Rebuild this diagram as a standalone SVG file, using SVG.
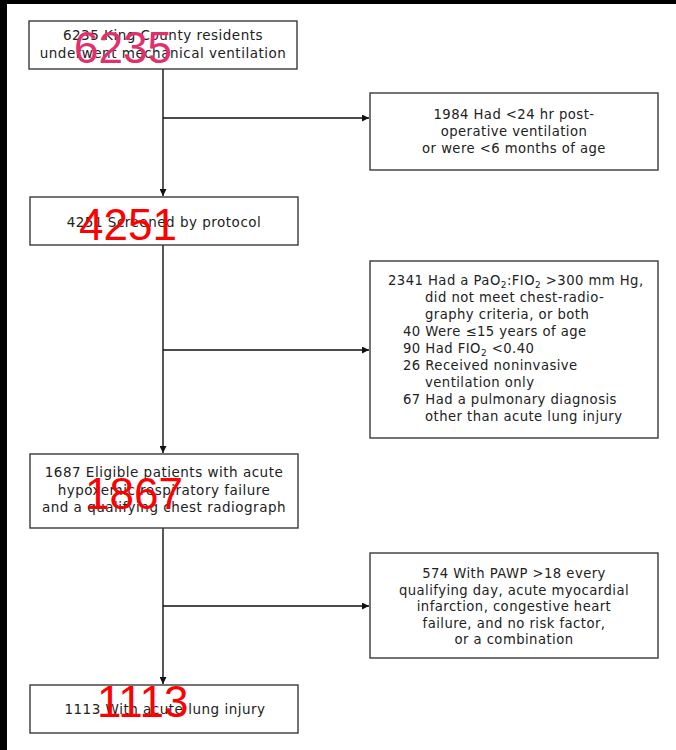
<svg xmlns="http://www.w3.org/2000/svg" width="676" height="750" viewBox="0 0 676 750">
<defs>
<style>
.box{fill:#fff;stroke:#3a3a3a;stroke-width:1.4}
.t{font-family:"DejaVu Sans","Liberation Sans",sans-serif;font-size:13.5px;letter-spacing:0.5px;fill:#222}
.r{font-size:13.2px;letter-spacing:0.45px}
.c{text-anchor:middle}
.big{font-family:"Liberation Sans",Arial,sans-serif;font-size:44px;fill:#ff0000}
.ln{stroke:#111;stroke-width:1.4;fill:none}
</style>
<marker id="ah" viewBox="0 0 10 10" refX="10" refY="5" markerWidth="9" markerHeight="7" markerUnits="userSpaceOnUse" orient="auto">
<path d="M0,0 L10,5 L0,10 z" fill="#111"/>
</marker>
</defs>
<rect x="0" y="0" width="676" height="750" fill="#fff"/>
<rect x="0" y="0" width="676" height="4" fill="#000"/>
<rect x="0" y="0" width="7" height="750" fill="#000"/>

<g id="connectors">
<line class="ln" x1="163" y1="69" x2="163" y2="196" marker-end="url(#ah)"/>
<line class="ln" x1="163" y1="118" x2="369" y2="118" marker-end="url(#ah)"/>
<line class="ln" x1="163" y1="245" x2="163" y2="453" marker-end="url(#ah)"/>
<line class="ln" x1="163" y1="350" x2="369" y2="350" marker-end="url(#ah)"/>
<line class="ln" x1="163" y1="528" x2="163" y2="684" marker-end="url(#ah)"/>
<line class="ln" x1="163" y1="606" x2="369" y2="606" marker-end="url(#ah)"/>
</g>

<g id="n1">
<rect class="box" x="29" y="21" width="268" height="48"/>
<text class="t c" x="163" y="40">6235 King County residents</text>
<text class="t c" x="163" y="58">underwent mechanical ventilation</text>
<text class="big" x="74" y="63" style="fill:#e3306c">6235</text>
</g>

<g id="r1">
<rect class="box" x="370" y="93" width="288" height="77"/>
<text class="t r c" x="514" y="119">1984 Had &lt;24 hr post-</text>
<text class="t r c" x="514" y="136">operative ventilation</text>
<text class="t r c" x="514" y="153">or were &lt;6 months of age</text>
</g>

<g id="n2">
<rect class="box" x="30" y="197" width="268" height="48"/>
<text class="t c" x="164" y="227">4251 Screened by protocol</text>
<text class="big" x="79" y="240">4251</text>
</g>

<g id="r2">
<rect class="box" x="370" y="261" width="288" height="177"/>
<text class="t r" x="388" y="285">2341 Had a PaO<tspan font-size="9" dy="3">2</tspan><tspan dy="-3">:FIO</tspan><tspan font-size="9" dy="3">2</tspan><tspan dy="-3"> &gt;300 mm Hg,</tspan></text>
<text class="t r" x="425" y="302">did not meet chest-radio-</text>
<text class="t r" x="425" y="319">graphy criteria, or both</text>
<text class="t r" x="403" y="336">40 Were ≤15 years of age</text>
<text class="t r" x="403" y="353">90 Had FIO<tspan font-size="9" dy="3">2</tspan><tspan dy="-3"> &lt;0.40</tspan></text>
<text class="t r" x="403" y="370">26 Received noninvasive</text>
<text class="t r" x="425" y="387">ventilation only</text>
<text class="t r" x="403" y="404">67 Had a pulmonary diagnosis</text>
<text class="t r" x="425" y="421">other than acute lung injury</text>
</g>

<g id="n3">
<rect class="box" x="30" y="454" width="268" height="74"/>
<text class="t c" x="164" y="477">1687 Eligible patients with acute</text>
<text class="t c" x="164" y="495">hypoxemic respiratory failure</text>
<text class="t c" x="164" y="512">and a qualifying chest radiograph</text>
<text class="big" x="85" y="509">1867</text>
</g>

<g id="r3">
<rect class="box" x="370" y="553" width="288" height="105"/>
<text class="t r c" x="514" y="578">574 With PAWP &gt;18 every</text>
<text class="t r c" x="514" y="594.5">qualifying day, acute myocardial</text>
<text class="t r c" x="514" y="611">infarction, congestive heart</text>
<text class="t r c" x="514" y="627.5">failure, and no risk factor,</text>
<text class="t r c" x="514" y="644">or a combination</text>
</g>

<g id="n4">
<rect class="box" x="30" y="685" width="268" height="48"/>
<text class="t c" x="165" y="714">1113 With acute lung injury</text>
<text class="big" x="97" y="717">1113</text>
</g>
</svg>
